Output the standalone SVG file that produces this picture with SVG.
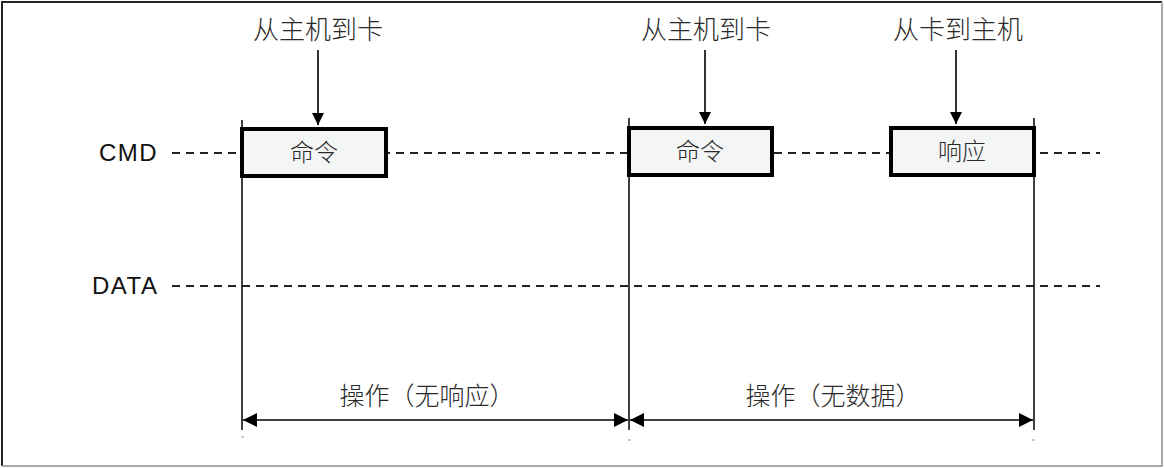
<svg xmlns="http://www.w3.org/2000/svg" width="1164" height="468" viewBox="0 0 1164 468">
<style>
.dash{stroke:#222;stroke-width:1.8;stroke-dasharray:8 6;fill:none}
.vline{stroke:#000;stroke-width:1.5;fill:none}
.box{fill:#f4f6f5;stroke:#000;stroke-width:4}
.arr{stroke:#000;stroke-width:1.6;fill:none}
.cjk{font-family:"Noto Sans CJK SC","Noto Sans CJK JP",sans-serif;fill:#2a2a2a;text-anchor:middle;font-weight:300}
.lbl{font-family:"Liberation Sans",Arial,sans-serif;fill:#111;font-size:24px;letter-spacing:1.5px}
.tick{stroke:#999;stroke-width:1}
</style>
<defs>
<marker id="ah" viewBox="0 0 10 10" refX="10" refY="5" markerWidth="16" markerHeight="12" markerUnits="userSpaceOnUse" orient="auto">
<path d="M0,0 L10,5 L0,10 z" fill="#000"/>
</marker>
<marker id="ahd" viewBox="0 0 10 10" refX="10" refY="5" markerWidth="18" markerHeight="14" markerUnits="userSpaceOnUse" orient="auto-start-reverse">
<path d="M0,0 L10,5 L0,10 z" fill="#000"/>
</marker>
</defs>
<rect x="0" y="0" width="1164" height="468" fill="#fff"/>
<path d="M2,466 L2,2 L1162,2" stroke="#222" stroke-width="2" fill="none"/>
<path d="M1162,2 L1162,466 L2,466" stroke="#aaa" stroke-width="2" fill="none"/>

<g id="connectors">
<line class="dash" x1="172" y1="153" x2="1100" y2="153"/>
<line class="dash" x1="172" y1="286" x2="1100" y2="286"/>
<line class="vline" x1="242" y1="120" x2="242" y2="430"/>
<line class="vline" x1="629" y1="118" x2="629" y2="430"/>
<line class="vline" x1="1034" y1="118" x2="1034" y2="430"/>
<line class="arr" x1="318" y1="50" x2="318" y2="125" marker-end="url(#ah)"/>
<line class="arr" x1="705" y1="50" x2="705" y2="124" marker-end="url(#ah)"/>
<line class="arr" x1="956" y1="50" x2="956" y2="124" marker-end="url(#ah)"/>
<line class="arr" x1="243" y1="420" x2="628" y2="420" marker-start="url(#ahd)" marker-end="url(#ahd)"/>
<line class="arr" x1="630" y1="420" x2="1033" y2="420" marker-start="url(#ahd)" marker-end="url(#ahd)"/>
<line class="tick" x1="241" y1="437" x2="244" y2="437"/>
<line class="tick" x1="628" y1="440" x2="631" y2="440"/>
<line class="tick" x1="1032" y1="440" x2="1035" y2="440"/>
</g>

<g id="label-cmd"><text class="lbl" x="99" y="161">CMD</text></g>
<g id="label-data"><text class="lbl" x="92" y="294">DATA</text></g>

<g id="cmd1">
<rect class="box" x="242" y="129" width="144" height="47"/>
<text class="cjk" x="314" y="161" font-size="24">命令</text>
</g>
<g id="cmd2">
<rect class="box" x="629" y="128" width="143" height="47"/>
<text class="cjk" x="700" y="160" font-size="24">命令</text>
</g>
<g id="resp">
<rect class="box" x="891" y="128" width="143" height="47"/>
<text class="cjk" x="962" y="160" font-size="24">响应</text>
</g>

<g id="top1"><text class="cjk" x="318" y="39" font-size="26">从主机到卡</text></g>
<g id="top2"><text class="cjk" x="706" y="39" font-size="26">从主机到卡</text></g>
<g id="top3"><text class="cjk" x="958" y="39" font-size="26">从卡到主机</text></g>

<g id="op1"><text class="cjk" x="427" y="405" font-size="25">操作（无响应）</text></g>
<g id="op2"><text class="cjk" x="833" y="405" font-size="25">操作（无数据）</text></g>
</svg>
